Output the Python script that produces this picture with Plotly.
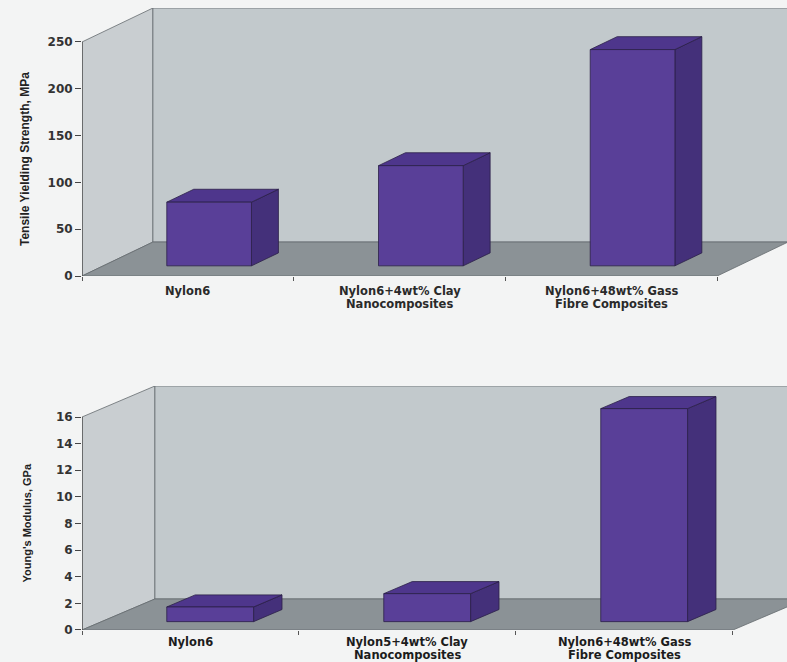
import plotly.graph_objects as go

# ---------------- data ----------------
categories_top = [["Nylon6"],
                  ["Nylon6+4wt% Clay", "Nanocomposites"],
                  ["Nylon6+48wt% Gass", "Fibre Composites"]]
tensile_strength = [68, 107, 231]
tensile_ticks = [0, 50, 100, 150, 200, 250]

categories_bottom = [["Nylon6"],
                     ["Nylon5+4wt% Clay", "Nanocomposites"],
                     ["Nylon6+48wt% Gass", "Fibre Composites"]]
youngs_modulus = [1.1, 2.1, 16.0]
modulus_ticks = [0, 2, 4, 6, 8, 10, 12, 14, 16]

# ---------------- style ----------------
BG = "#f3f4f4"
WALL = "#c2c9cc"
SIDE_WALL = "#c9ced1"
FLOOR = "#8b9296"
EDGE = "#656b6f"
BAR_FRONT = "#593f98"
BAR_SIDE = "#44307a"
BAR_TOP = "#4e368c"
BAR_EDGE = "#2b2048"
LABEL_FONT = "DejaVu Sans, Verdana, sans-serif"
TITLE_FONT = "Liberation Sans, Arial, sans-serif"

fig = go.Figure()


def poly(xs, ys, fill, line, xa, ya, lw=0.8):
    fig.add_trace(go.Scatter(
        x=list(xs) + [xs[0]], y=list(ys) + [ys[0]],
        mode="lines", fill="toself", fillcolor=fill,
        line=dict(color=line, width=lw),
        xaxis=xa, yaxis=ya, hoverinfo="skip", showlegend=False))


def panel(xa, ya, values, vmax, dx, dy, d0, d1, width):
    n = len(values)
    x0, x1 = -0.5, n - 0.5
    poly([x0, x0, x0 + dx, x0 + dx], [0, vmax, vmax + dy, dy], SIDE_WALL, EDGE, xa, ya)
    poly([x0 + dx, x0 + dx, x1 + dx, x1 + dx], [dy, vmax + dy, vmax + dy, dy], WALL, EDGE, xa, ya)
    poly([x0, x1, x1 + dx, x0 + dx], [0, 0, dy, dy], FLOOR, EDGE, xa, ya)
    fig.add_trace(go.Scatter(x=[x0, x0], y=[0, vmax], mode="lines",
                             line=dict(color="#444", width=1.2),
                             xaxis=xa, yaxis=ya, hoverinfo="skip", showlegend=False))
    for i, v in enumerate(values):
        xl = i - width / 2 + d0 * dx
        xr = i + width / 2 + d0 * dx
        ddx = (d1 - d0) * dx
        yb = d0 * dy
        ddy = (d1 - d0) * dy
        poly([xr, xr + ddx, xr + ddx, xr], [yb, yb + ddy, yb + ddy + v, yb + v], BAR_SIDE, BAR_EDGE, xa, ya)
        poly([xl, xr, xr + ddx, xl + ddx], [yb + v, yb + v, yb + v + ddy, yb + v + ddy], BAR_TOP, BAR_EDGE, xa, ya)
        poly([xl, xr, xr, xl], [yb, yb, yb + v, yb + v], BAR_FRONT, BAR_EDGE, xa, ya)


TOP_DX, TOP_DY = 0.335, 36.3
BOT_DX, BOT_DY = 0.336, 2.33

panel("x", "y", tensile_strength, tensile_ticks[-1], TOP_DX, TOP_DY, 0.3, 0.68, 0.4)
panel("x2", "y2", youngs_modulus, modulus_ticks[-1], BOT_DX, BOT_DY, 0.27, 0.66, 0.4)


def cat_labels(cats, xref, yref, first_shift, spacing, color):
    for i, lines in enumerate(cats):
        for k, line in enumerate(lines):
            fig.add_annotation(x=i, y=0, xref=xref, yref=yref, text=line, showarrow=False,
                               yanchor="middle", yshift=-(first_shift + k * spacing),
                               font=dict(family=LABEL_FONT, size=11.5, color=color, weight="bold"))


cat_labels(categories_top, "x", "y", 14.5, 13.5, "#2a2a2a")
cat_labels(categories_bottom, "x2", "y2", 12.5, 12.5, "#1c1c1c")

# axis titles
fig.add_annotation(x=-0.5, y=tensile_ticks[-1] / 2, xref="x", yref="y",
                   text="Tensile Yielding Strength, MPa", textangle=-90, showarrow=False,
                   xanchor="center", xshift=-57,
                   font=dict(family=TITLE_FONT, size=12, color="#222", weight="bold"))
fig.add_annotation(x=-0.5, y=modulus_ticks[-1] / 2, xref="x2", yref="y2",
                   text="Young's Modulus, GPa", textangle=-90, showarrow=False,
                   xanchor="center", xshift=-55,
                   font=dict(family=TITLE_FONT, size=11, color="#222", weight="bold"))

n = len(tensile_strength)
bounds = [k - 0.5 for k in range(n + 1)]
xcommon = dict(showgrid=False, zeroline=False, showline=False,
               tickvals=bounds, ticktext=[""] * len(bounds),
               ticks="outside", ticklen=4, tickcolor="#555")
ycommon = dict(showgrid=False, zeroline=False, showline=False,
               ticks="outside", ticklen=6, tickcolor="#444",
               tickfont=dict(family=LABEL_FONT, size=12, color="#333", weight="bold"))

fig.update_layout(
    width=787, height=662,
    margin=dict(l=82, r=0, t=8, b=32),
    paper_bgcolor=BG, plot_bgcolor=BG,
    showlegend=False,
    xaxis=dict(domain=[0, 1], anchor="y", range=[-0.5, 2.83], **xcommon),
    yaxis=dict(domain=[0.5691, 1], anchor="x", range=[0, tensile_ticks[-1] + TOP_DY],
               tickvals=tensile_ticks, **ycommon),
    xaxis2=dict(domain=[0, 1], anchor="y2", range=[-0.5, 2.749], **xcommon),
    yaxis2=dict(domain=[0, 0.3923], anchor="x2", range=[0, modulus_ticks[-1] + BOT_DY],
                tickvals=modulus_ticks, **ycommon),
)

fig.write_html("out.html")
